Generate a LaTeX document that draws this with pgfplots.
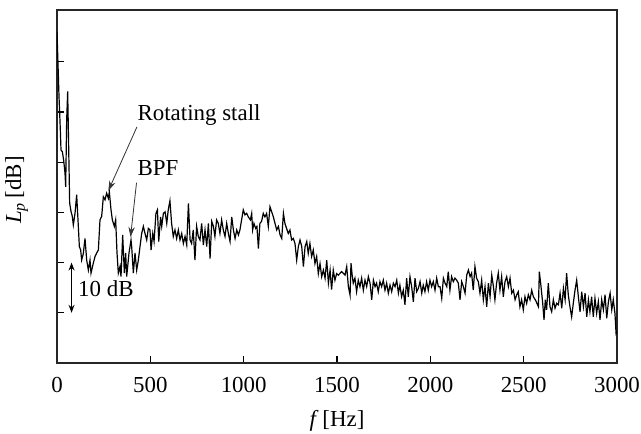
\documentclass[border=0pt]{standalone}
\usepackage{pgfplots}
\pgfplotsset{compat=1.18}
\usepackage{fontspec}
\setmainfont{Liberation Serif}
\usetikzlibrary{arrows.meta}

\begin{document}
\begin{tikzpicture}
\fontsize{11.5}{13.5}\selectfont
\begin{axis}[
  name=ax,
  scale only axis,
  width=280bp, height=176.5bp,
  xmin=0, xmax=3000, ymin=0, ymax=70.3,
  xtick={0,500,1000,1500,2000,2500,3000},
  ytick={10,20,30,40,50,60},
  yticklabels={},
  tick pos=left,
  tick align=inside,
  major tick length=3.5bp,
  tick style={line width=0.6bp, black},
  axis line style={line width=0.9bp, black!85},
  /pgf/number format/assume math mode=true,
  /pgf/number format/1000 sep={},
  ticklabel style={font=\fontsize{11.5}{13.5}\selectfont},
  xticklabel style={yshift=-3bp},
  xlabel={\textit{f}\,[Hz]},
  ylabel={\textit{L}\textsubscript{\textit{p}}\,[dB]},
  x label style={at={(axis description cs:0.5,0)}, anchor=center, yshift=-29bp, font=\fontsize{11.5}{13.5}\selectfont},
  y label style={at={(axis description cs:-0.072,0.49)}, anchor=center, font=\fontsize{11.5}{13.5}\selectfont},
  clip=true,
]
\addplot[black, line width=0.6bp] coordinates {
(0,66) (5,60) (10.7,53.1) (17.9,46.4) (21.4,42.4) (28.6,42.1) (35.7,40.4) (42.9,37.8) (46.5,35.1) (51.8,48.4)
(57.2,54.1) (62.5,43.1) (67.9,31.8) (75,30.2) (82,29.2) (87.5,27.5) (96.5,29.8) (105.4,33.5) (114.3,27.2) (119.7,23.2)
(126.8,22.5) (132.2,20.5) (141,21.8) (150,24.8) (159,20.5) (167.9,18.5) (176.8,20.5) (182.2,17.9) (194.7,19.9) (203.6,21.2)
(212.5,21.9) (221.5,22.5) (230.4,28.5) (239.3,29.2) (248.3,33.1) (257.2,32.5) (266,33.8) (275,32.8) (280.4,34.1) (289.4,30.5)
(296.5,28.5) (307.2,27.2) (314.3,28.5) (321.5,21.9) (328.6,17.9) (337.6,19.2) (342.9,17.2) (351.9,25.5) (360.8,17.9) (367.9,21.9)
(373.3,17.2) (385.8,21.9) (396.5,24.5) (400,23.2) (409,17.9) (417.9,21.9) (426.9,18.5) (435.8,20.5) (444.7,23.2) (453.7,25.8)
(462.6,27.2) (471.5,25.8) (480.5,24.5) (489.4,26.8)
(498,26.5) (504,22.5) (513,25.8) (520,24.2) (530,29.8) (538,30.5) (545,24.2) (555,29.1) (561,27.2) (570,29.8)
(579,30.1) (588,27.8) (596,30.5) (605,32.3) (614,27.8) (623,25.2) (632,26.5) (641,24.8) (650,26.5) (659,24.5)
(668,25.8) (677,23.8) (686,25.2) (695,23.5) (704,31.8) (713,24.5) (721,23.8) (730,26.5) (739,20.5) (748,27.2)
(757,25.2) (766,24.5) (775,27.8) (784,23.5) (793,26.5) (802,23.2) (811,27.8) (820,20.8) (829,28.2) (838,27.2)
(846,25.2) (855,28.5) (864,27.8) (873,25.8) (882,28.5) (891,26.5) (900,25.2) (909,27.8) (918,25.8) (927,24.2)
(936,29.1) (945,26.5) (954,24.8) (963,26.5) (972,25.5) (980,26.5) (989,28.5) (998,30.5) (1007,29.5) (1016,29.8)
(1025,29.1) (1036,28.5) (1043,29.8) (1048,26.5) (1055,27.8) (1064,26.8) (1071,27.2) (1079,22.8) (1087,27.8) (1096,28.2)
(1105,29.8) (1114,29.1) (1123,29.8) (1132,27.2) (1141,31.1) (1150,30.1) (1159,29.1) (1168,27.8) (1177,26.5) (1186,27.2)
(1195,25.5) (1204,24.8) (1213,29.8) (1221,27.8) (1230,26.8) (1239,25.8) (1248,26.5) (1257,24.5) (1266,24.8) (1275,23.8)
(1284,20.5) (1293,23.2) (1302,24.5) (1311,23.2) (1320,19.2) (1329,23.2) (1338,24.2) (1346,21.8) (1355,23.8) (1364,21.2)
(1373,22.5) (1382,19.8) (1391,21.2) (1400,17.8) (1409,19.8) (1418,17.2) (1427,18.5) (1436,16.9) (1445,20.5) (1454,15.9)
(1463,18.5) (1471,14.6) (1480,18.5) (1489,16.5) (1498,17.8) (1507,17.5) (1525,18.2) (1543,17.5)
(1552,19.2) (1561,15.2) (1570,13.5) (1575,19.9) (1582,17.2) (1587,15.9) (1596,16.9) (1605,14.2) (1614,16.5) (1623,15.2)
(1632,16.9) (1641,14.5) (1650,16.5) (1659,15.2) (1668,17.2) (1677,15.9) (1686,12.6) (1695,16.5) (1704,15.2) (1712,15.9)
(1721,14.2) (1730,16.2) (1739,15.2) (1748,16.5) (1757,14.5) (1766,15.9) (1775,13.9) (1784,15.5) (1793,14.2) (1802,15.9)
(1811,15.2) (1820,16.5) (1829,13.9) (1837,15.5) (1846,13.2) (1855,14.5) (1864,11.6) (1873,16.9) (1882,13.2) (1891,17.2)
(1900,15.2) (1909,12.2) (1918,16.9) (1927,14.2) (1936,14.9) (1945,16.2) (1954,13.9) (1962,15.5) (1971,14.2) (1980,16.2)
(1989,14.5) (1998,16.5) (2007,15.2) (2016,16.2) (2025,14.5) (2034,16.9) (2043,15.2)
(2052,15.2) (2061,12.9) (2070,16.9) (2079,15.9) (2088,15.2) (2096,18.2) (2105,14.5) (2114,17.2) (2123,16.2) (2132,16.9)
(2141,16.5) (2150,15.9) (2159,12.6) (2168,16.2) (2177,15.2) (2186,13.9) (2195,17.5) (2204,18.5) (2213,17.2) (2221,17.9)
(2230,14.5) (2239,19.2) (2248,16.9) (2257,16.2) (2266,13.9) (2275,16.5) (2284,12.6) (2293,15.2) (2302,11.2) (2311,15.9)
(2320,13.2) (2329,17.5) (2338,15.2) (2346,12.6) (2355,15.9) (2364,17.9) (2373,14.5) (2382,17.2) (2391,13.2) (2400,16.2)
(2409,17.2) (2418,15.2) (2427,16.9) (2436,13.9) (2445,14.5) (2454,12.6) (2463,13.6) (2471,14.2) (2480,11.2) (2489,12.6)
(2498,10.6) (2507,13.2) (2516,11.9) (2525,13.6) (2534,12.6) (2543,14.5) (2552,13.2)
(2565,12.4) (2579,11.2) (2584,18.2) (2593,15.2) (2602,11.9) (2609,8.6) (2616,12.6) (2623,10.6) (2632,15.9) (2641,11.2)
(2650,10.2) (2659,12.6) (2668,10.9) (2677,11.9) (2686,11.6) (2695,13.9) (2704,10.9) (2713,14.9) (2722,12.6) (2730,17.9)
(2739,13.6) (2748,11.2) (2757,9.2) (2766,11.9) (2775,14.5) (2784,16.5) (2793,13.2) (2802,10.2) (2811,14.2) (2820,11.2)
(2829,13.9) (2838,9.2) (2847,12.6) (2855,10.2) (2864,13.2) (2873,9.2) (2882,12.9) (2891,9.9) (2900,12.2) (2909,8.6)
(2918,12.6) (2927,10.6) (2936,13.6) (2945,8.9) (2954,12.2) (2963,13.9) (2972,10.6) (2980,12.6) (2989,9.9) (2995,5.9)
(3000,6.4)
};
\node[anchor=center] at (axis cs:761,49.4) {Rotating stall};
\draw[black!80, line width=0.4bp, -{Stealth[length=5bp,width=3.2bp]}] (axis cs:428,47.0) -- (axis cs:275,34.3);
\node[anchor=center] at (axis cs:541,38.8) {BPF};
\draw[black!80, line width=0.4bp, -{Stealth[length=5bp,width=3.2bp]}] (axis cs:426,35.9) -- (axis cs:394,25.1);
\draw[black, line width=0.6bp, {Stealth[length=4bp,width=3bp]}-{Stealth[length=4bp,width=3bp]}] (axis cs:78,20) -- (axis cs:78,10);
\node[anchor=center] at (axis cs:262,14.9) {10 dB};
\end{axis}
\pgfresetboundingbox
\path ([shift={(-28.5bp,-35.5bp)}]ax.south west) rectangle ([shift={(12bp,5bp)}]ax.north east);
\end{tikzpicture}
\end{document}
